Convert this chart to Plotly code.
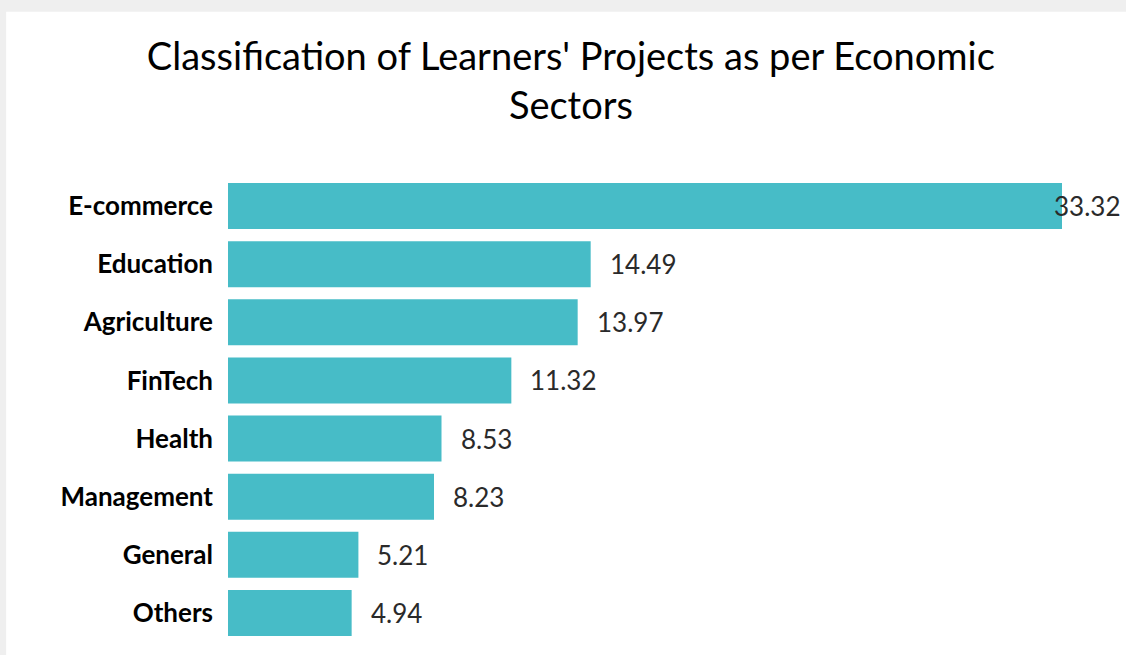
import plotly.graph_objects as go

sectors = ["E-commerce", "Education", "Agriculture", "FinTech",
           "Health", "Management", "General", "Others"]
shares = [33.32, 14.49, 13.97, 11.32, 8.53, 8.23, 5.21, 4.94]

fig = go.Figure(go.Bar(
    x=shares,
    y=sectors,
    orientation="h",
    marker=dict(color="#47BCC7", line=dict(width=0)),
    hoverinfo="x+y",
))

# value labels; the longest bar's label overlaps its end a little
top = max(shares)
for s, v in zip(sectors, shares):
    fig.add_annotation(
        x=v, y=s, text=f"{v:.2f}", showarrow=False,
        xanchor="left", xshift=-10 if v == top else 17,
        font=dict(family="Lato", size=26, color="#2a2a2a"),
    )

# white card over a light grey page, as in the screenshot
fig.add_shape(type="rect", xref="paper", yref="paper", layer="below",
              x0=-0.266, x1=1.08, y0=-0.03, y1=1.3555,
              fillcolor="white", line=dict(width=0))

fig.update_layout(
    width=1126, height=655,
    paper_bgcolor="#efefef",
    plot_bgcolor="white",
    margin=dict(l=228, r=64, t=177, b=13),
    bargap=0.21,
    showlegend=False,
    title=dict(
        text="Classification of Learners' Projects as per Economic<br>Sectors",
        x=0.507, xref="container", xanchor="center",
        y=0.893, yref="container", yanchor="top",
        font=dict(family="Lato", size=38, color="black"),
    ),
    xaxis=dict(range=[0, 33.32], visible=False),
    yaxis=dict(
        autorange="reversed",
        showgrid=False, zeroline=False, showline=False,
        ticks="", ticklabelstandoff=14,
        tickfont=dict(family="Lato", size=26, color="black", weight="bold"),
    ),
)

fig.write_html("out.html", config={"displayModeBar": False},
               post_script="document.body.style.margin='0';")
